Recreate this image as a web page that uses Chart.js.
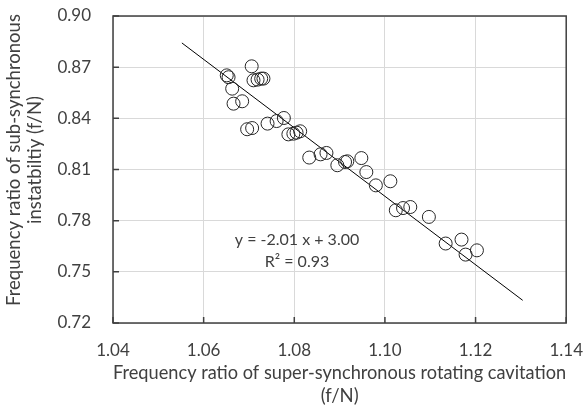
<!DOCTYPE html>
<html>
<head>
<meta charset="utf-8">
<script src="https://cdn.jsdelivr.net/npm/chart.js@4"></script>
<style>
  html, body { margin: 0; padding: 0; background: #fff; }
  #wrap { width: 583px; height: 408px; }
</style>
</head>
<body>
<div id="wrap"><canvas id="chart"></canvas></div>
<script>
// measured points (super-synchronous ratio, sub-synchronous ratio)
const superRatio = [1.0651, 1.0655, 1.0663, 1.0666, 1.0685, 1.0706, 1.0710, 1.0719, 1.0727, 1.0732,
  1.0696, 1.0707, 1.0741, 1.0761, 1.0777, 1.0787, 1.0798, 1.0805, 1.0813, 1.0833,
  1.0858, 1.0871, 1.0895, 1.0912, 1.0917, 1.0948, 1.0959, 1.0980, 1.1012, 1.1024,
  1.1040, 1.1056, 1.1097, 1.1134, 1.1169, 1.1178, 1.1203];
const subRatio = [0.8652, 0.8641, 0.8574, 0.8486, 0.8500, 0.8705, 0.8623, 0.8627, 0.8633, 0.8633,
  0.8336, 0.8343, 0.8369, 0.8384, 0.8402, 0.8306, 0.8310, 0.8316, 0.8324, 0.8170,
  0.8189, 0.8197, 0.8125, 0.8144, 0.8148, 0.8167, 0.8085, 0.8007, 0.8031, 0.7861,
  0.7874, 0.7880, 0.7822, 0.7666, 0.7689, 0.7601, 0.7626];

// linear fit, drawn between these two ends
const fitX = [1.0552, 1.1304];
const fitY = [0.8842, 0.7333];
const fitText = ['y = -2.01 x + 3.00', 'R² = 0.93'];

const xTicks = [1.04, 1.06, 1.08, 1.10, 1.12, 1.14];
const yTicks = [0.72, 0.75, 0.78, 0.81, 0.84, 0.87, 0.90];
const yTitle = ['Frequency ratio of sub-synchronous', 'instatbiltiy (f/N)'];

const FONT = 'Lato, "Open Sans", sans-serif';
const TXT = '#404040';

const points = superRatio.map((x, i) => ({ x: x, y: subRatio[i] }));
const fitLine = fitX.map((x, i) => ({ x: x, y: fitY[i] }));

// box around the plot + inward tick marks + equation label + y title
const framePlugin = {
  id: 'frame',
  afterDatasetsDraw(chart) {
    const { ctx, chartArea: a, scales } = chart;
    ctx.save();
    ctx.strokeStyle = '#404040';
    ctx.lineWidth = 1.5;
    ctx.beginPath();
    xTicks.forEach(v => {
      const px = scales.x.getPixelForValue(v);
      ctx.moveTo(px, a.bottom);
      ctx.lineTo(px, a.bottom - 6);
    });
    yTicks.forEach(v => {
      const py = scales.y.getPixelForValue(v);
      ctx.moveTo(a.left, py);
      ctx.lineTo(a.left + 6, py);
    });
    ctx.stroke();
    ctx.strokeRect(a.left, a.top, a.right - a.left, a.bottom - a.top);

    ctx.fillStyle = TXT;
    ctx.font = '16px ' + FONT;
    ctx.textAlign = 'center';
    ctx.textBaseline = 'middle';
    const cx = scales.x.getPixelForValue(1.0806);
    ctx.fillText(fitText[0], cx, scales.y.getPixelForValue(0.7685));
    ctx.fillText(fitText[1], cx, scales.y.getPixelForValue(0.7556));

    // y axis title, two centred lines
    ctx.font = '18.5px ' + FONT;
    ctx.translate(0, 160);
    ctx.rotate(-Math.PI / 2);
    ctx.fillText(yTitle[0], 0, 14);
    ctx.fillText(yTitle[1], 0, 35);
    ctx.restore();
  }
};

new Chart(document.getElementById('chart'), {
  type: 'scatter',
  data: {
    datasets: [
      {
        label: 'data',
        data: points,
        pointRadius: 6.5,
        pointHoverRadius: 6.5,
        pointBorderWidth: 1,
        pointBorderColor: '#262626',
        pointBackgroundColor: 'rgba(0,0,0,0)'
      },
      {
        label: 'fit',
        data: fitLine,
        showLine: true,
        borderColor: '#000',
        borderWidth: 1,
        pointRadius: 0
      }
    ]
  },
  options: {
    responsive: true,
    maintainAspectRatio: false,
    animation: false,
    layout: { padding: { top: 16, right: 16, left: 0, bottom: 0 } },
    plugins: { legend: { display: false }, tooltip: { enabled: false } },
    scales: {
      x: {
        type: 'linear',
        min: 1.04,
        max: 1.14,
        afterBuildTicks: s => { s.ticks = xTicks.map(v => ({ value: v })); },
        ticks: {
          color: TXT,
          font: { family: FONT, size: 17 },
          padding: 0,
          maxRotation: 0,
          callback: v => v.toFixed(2)
        },
        // outward tick space kept invisible, used only to push the labels down
        grid: { color: '#d9d9d9', drawTicks: true, tickLength: 17, tickColor: 'rgba(0,0,0,0)' },
        border: { display: false },
        title: {
          display: true,
          text: ['Frequency ratio of super-synchronous rotating cavitation', '(f/N)'],
          color: TXT,
          font: { family: FONT, size: 18.5, lineHeight: 1.22 },
          padding: { top: 0, bottom: 1 }
        },
        afterFit: s => { s.height = 85; }
      },
      y: {
        type: 'linear',
        min: 0.72,
        max: 0.90,
        afterBuildTicks: s => { s.ticks = yTicks.map(v => ({ value: v })); },
        ticks: {
          color: TXT,
          font: { family: FONT, size: 17 },
          padding: 0,
          callback: v => v.toFixed(2)
        },
        grid: { color: '#d9d9d9', drawTicks: true, tickLength: 22, tickColor: 'rgba(0,0,0,0)' },
        border: { display: false },
        afterFit: s => { s.width = 113; }
      }
    }
  },
  plugins: [framePlugin]
});
</script>
</body>
</html>
